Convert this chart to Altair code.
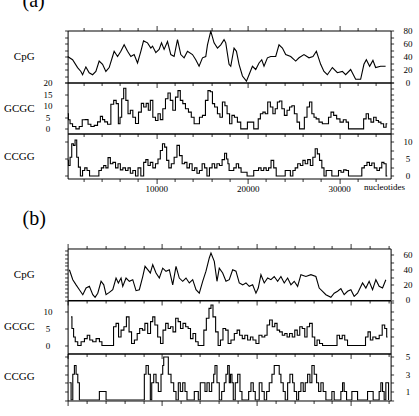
import altair as alt
import pandas as pd

# ---------------- data (position in nucleotides, value) ----------------
A_CPG = [(295,40),(841,35),(1388,23),(1749,17),(1935,12),(2295,24),(2656,15),(3028,12),(3388,17),(3749,33),
         (4121,28),(4481,17),(4842,23),(5214,40),(5388,48),(5760,40),(6121,48),(6481,58),(6853,48),(7214,40),
         (7574,43),(7946,30),(8307,48),(8602,64),(9039,61),(9400,53),(9586,56),(9946,46),(10307,51),(10569,61),
         (10853,51),(11225,63),(11586,43),(11946,40),(12318,66),(12679,43),(13039,38),(13411,48),(13957,43),(14318,35),
         (14679,25),(15050,38),(15411,40),(15597,58),(15958,79),(16318,61),(16690,53),(17050,58),(17411,66),(17597,61),
         (17958,28),(18144,25),(18504,53),(18767,48),(19051,28),(19423,10),(19860,2),(20144,12),(20516,25),(20876,20),
         (21237,30),(21532,35),(21783,25),(22155,38),(22516,40),(23062,40),(23423,58),(23795,53),(24155,43),(24702,40),
         (25248,33),(25609,38),(26155,43),(26702,38),(27139,40),(27511,48),(27981,28),(28341,17),(28713,12),(29260,23),
         (29806,15),(30353,17),(30713,12),(31260,20),(31806,5),(32353,5),(32713,28),(32976,35),(33337,25),(33697,34),
         (33992,23),(34539,25),(35085,25)]

A_GCGC = [(292,6.5),(473,3.9),(656,2.2),(1020,1),(1385,0),(1749,1),(2040,3.9),(2405,4),(2659,2),(3024,1),
          (3388,1.5),(3752,3),(4008,5.4),(4227,4),(4481,3),(4845,2),(5210,10.6),(5465,12.3),(5757,10.9),(5938,2.2),
          (6121,5),(6303,13),(6558,17.5),(6777,12.3),(7031,6.5),(7287,8),(7578,5),(7870,2.3),(8234,7.2),(8489,11),
          (8744,9.4),(9036,11),(9217,8),(9473,12.3),(9764,5),(10056,3.6),(10310,6.5),(10566,4),(10857,8.7),(11149,13),
          (11403,15.5),(11659,12.3),(11950,8),(12242,13.7),(12496,16.5),(12752,12.3),(13043,10.9),(13335,8.7),(13699,7.2),(13954,5),
          (14318,2.2),(14573,2.2),(14865,5),(15229,5.8),(15521,12.3),(15776,16.5),(16031,16),(16250,10.9),(16504,9.4),(16868,6.5),
          (17051,5),(17415,11.6),(17597,10),(17889,6.5),(18144,2.2),(18398,5.8),(18690,5),(19054,2.9),(19419,0),(19856,0),
          (20075,2.9),(20512,2.9),(20803,0),(21059,0),(21240,4.3),(21532,6.5),(21787,7.2),(22042,6.5),(22333,11.6),(22625,9.4),
          (22880,6.5),(23135,8.7),(23354,11.6),(23609,12),(23863,8.7),(24155,5.8),(24447,8),(24702,9.4),(24957,10),(25248,6.5),
          (25540,2.9),(25795,0),(26050,0),(26341,5),(26633,9.4),(26888,11.6),(27142,6.5),(27361,5),(27616,4.3),(27981,2.9),
          (28345,2.2),(28710,2.2),(28965,5),(29256,7.2),(29547,5.8),(29911,4.3),(30276,2.9),(30640,3.9),(30896,2.9),(31151,0),
          (32535,0),(32827,4.3),(33082,6.5),(33337,4.3),(33628,2.9),(33920,5),(34175,3.6),(34430,2.9),(34721,2.2),(35012,0.7),
          (35267,2.2)]

A_CCGG = [(292,4.6),(473,3.1),(656,5.5),(838,9.5),(1020,9),(1202,10.6),(1385,5.5),(1566,2.6),(1822,0),(2040,1.6),
          (2295,2.4),(2550,1.6),(2842,0),(3571,0),(3862,1.6),(4117,2.4),(4372,3.1),(4591,2.4),(4845,5.4),(5101,3.6),
          (5392,4),(5684,2.4),(5938,3.6),(6194,1.8),(6485,2.4),(6777,1.6),(7031,2.4),(7287,0.8),(7578,1.6),(7870,0),
          (8124,2.4),(8489,0),(8744,4),(8963,4.8),(9217,3.1),(9473,4),(9764,2.4),(10056,3.6),(10310,5),(10566,7.5),
          (10784,9.5),(11039,8.5),(11222,4.6),(11513,2.4),(11768,3.6),(12132,5.5),(12387,9),(12679,6),(12971,3.6),(13225,4),
          (13480,2.4),(13772,3.6),(14064,1.6),(14318,2.4),(14573,0.8),(14865,1.6),(15156,3.6),(15411,2.4),(15666,0),(15958,2.4),
          (16250,3.6),(16504,2.4),(16759,3.6),(17051,3.1),(17342,4.8),(17597,6.7),(17780,5),(17889,3.6),(18035,1.6),(18326,1.6),
          (18617,2.4),(18873,3.6),(19128,2.4),(19419,1.1),(19783,1.1),(20075,0),(20512,0),(20803,1.6),(21059,1.6),(21314,2.4),
          (21605,1.6),(21896,2.4),(22151,1.6),(22407,2.4),(22698,4.6),(22989,2.4),(23245,0),(23973,0),(24229,1.6),(24520,1.6),
          (24811,0),(25066,1.6),(25321,2.4),(25613,3.6),(25904,3.1),(26159,4.6),(26414,3.6),(26706,4.8),(26997,3.1),(27252,5.5),
          (27507,8),(27726,6.5),(27981,4.6),(28236,2.4),(28454,0),(28710,1.6),(29074,1.6),(29330,0),(29803,0),(30058,1.6),
          (30349,1.1),(30640,1.8),(30896,1.6),(31151,0),(32353,0),(32609,2.4),(32900,3.1),(33192,4),(33446,3.1),(33701,3.8),
          (33992,2.4),(34284,1.6),(34539,2.4),(34794,4),(35012,3.6),(35267,0)]

B_CPG = [(190,40),(550,26.8),(899,20),(1248,13.6),(1608,7),(1957,15.8),(2306,18),(2666,7),(2910,3.5),(3195,9),
         (3544,24.7),(3830,20),(4073,7),(4422,10),(4782,13.6),(5131,29),(5375,22.5),(5660,29),(5840,18),(6189,29),
         (6538,24.7),(6898,26.8),(7247,12.3),(7596,13.6),(7956,31),(8200,44.5),(8485,40),(8760,35.7),(9014,46.6),(9363,35.7),
         (9712,29),(10072,42),(10421,37.9),(10770,40),(11130,20),(11479,44.5),(11828,29),(12188,24.7),(12537,29),(12886,22.5),
         (13246,26.8),(13595,13.6),(13944,9),(14304,24.7),(14653,38),(15002,55.5),(15182,62),(15531,51),(15817,24.7),(16060,42),
         (16420,35.7),(16769,24.7),(17118,26.8),(17478,40),(17827,38),(18176,22.5),(18536,20),(18885,22.5),(19234,18),(19594,20),
         (19943,9),(20187,15.8),(20472,33.4),(20821,22.5),(21181,29),(21530,26.8),(21879,31),(22239,24.7),(22588,31),(22937,22.5),
         (23297,29),(23646,20),(23995,24.7),(24355,18),(24704,33.4),(25233,31),(25762,33.4),(26291,31),(26640,15.8),(27000,11.5),
         (27349,7),(27878,3.5),(28227,9),(28587,11.5),(28936,15),(29285,7),(29645,11.5),(29994,13.6),(30343,4.9),(30703,9),
         (31232,22.5),(31581,15.8),(31930,24.7),(32290,13.6),(32639,26.8),(32988,18),(33348,15.8),(33697,26.8)]

B_GCGC = [(370,8.4),(550,5),(720,2.5),(899,1.1),(1248,0),(1608,1.1),(1957,2),(2201,3),(2486,1.6),(2835,1.1),
          (3195,2),(3544,1.1),(3724,0),(4782,0),(4951,5.5),(5311,6.5),(5480,2.5),(5840,4.5),(6084,5.5),(6369,8.4),
          (6644,4),(6898,0.6),(7247,1.6),(7491,3.5),(7776,5),(8062,4.5),(8305,6.5),(8654,3.5),(8908,7),(9120,8.4),
          (9363,6),(9712,2.5),(9966,0.6),(10241,4.5),(10527,6.5),(10770,5),(11024,5.5),(11299,4),(11585,8),(11828,7),
          (12082,5),(12357,6.5),(12643,5.5),(12886,5),(13140,2),(13415,3.5),(13701,1.1),(13944,0),(14304,0),(14548,4.5),
          (14833,8),(15108,10.9),(15256,11.9),(15531,8.4),(15817,4),(16060,0),(16314,1.6),(16589,5),(16875,4.5),(17118,0.6),
          (17478,1.6),(17827,3.5),(18071,4.5),(18356,3),(18642,2),(18885,3),(19234,1.6),(19488,2.5),(19763,1.6),(20123,0.6),
          (20398,3),(20758,2.5),(21001,3),(21245,6),(21530,7.5),(21816,5.5),(22059,6.5),(22303,4.5),(22588,4),(22874,3),
          (23117,3.5),(23361,2.5),(23646,3.5),(23932,2.5),(24175,4.5),(24461,3),(24704,5.5),(24990,5),(25233,2.5),(25477,5.5),
          (25762,6.5),(26048,2.5),(26291,0),(26535,1.6),(26820,0.6),(27169,0),(28407,0),(28651,3),(28936,2),(29222,3),
          (29465,1.6),(29814,0),(31401,0),(31687,2.5),(31930,4),(32184,1.6),(32459,2.5),(32819,2),(33168,3),(33454,6),
          (33697,5),(33877,2.5)]

B_CCGG = [(190,2),(370,0),(550,3),(720,4),(899,3),(1079,2),(1248,0),(3195,0),(3364,1),(3893,1),
          (4073,0),(7956,0),(8125,3),(8305,4),(8549,3),(8760,0),(8908,2),(9120,3),(9363,2),(9607,1),
          (9892,3),(10072,4),(10178,5),(10527,5),(10665,3),(10950,2),(11236,1),(11479,0),(11723,2),(11934,1),
          (12188,2),(12431,1),(12643,0),(13246,0),(13415,1),(13701,1),(13839,0),(14050,2),(14304,2),(14548,1),
          (14759,2),(15002,1),(15256,2),(15468,3),(15606,4),(15817,2),(16060,0),(16314,1),(16589,2),(16769,3),
          (16949,4),(17118,2),(17245,3),(17404,2),(17542,0),(17753,2),(18007,3),(18251,1),(18462,0),(18959,0),
          (19171,1),(19414,2),(19658,1),(19869,0),(20123,0),(20292,2),(20578,1),(20821,0),(21075,1),(21350,2),
          (21636,3),(21879,4),(22239,4),(22408,3),(22588,2),(22831,1),(23043,0),(23297,2),(23541,3),(23826,2),
          (23995,1),(24249,0),(24461,1),(24704,2),(24948,1),(25159,2),(25413,3),(25657,2),(25868,4),(26111,3),
          (26365,2),(26577,1),(26820,2),(27064,1),(27349,0),(27773,0),(27984,1),(28227,0),(28936,1),(29116,2),
          (29285,1),(29539,0),(30100,1),(30523,1),(30703,0),(31761,1),(32216,1),(32354,0),(32988,1),(33168,2),
          (33348,1),(33517,0),(33697,2),(33877,2),(33983,0)]

X_DOMAIN_A = [295, 35630]
X_DOMAIN_B = [0, 34200]
X_LABELS = [10000, 20000, 30000]

SERIF = "Liberation Serif"
W = 323

TICK_COND = {"condition": {"test": "datum.value % 10000 === 0", "value": 5}, "value": 3}


def xticks(dom):
    return [v for v in range(0, 40001, 2000) if dom[0] <= v <= dom[1]]


def yvals(dom, step):
    out = []
    v = 0.0
    while v <= dom[1] + 1e-9:
        if v >= dom[0]:
            out.append(v)
        v += step
    return out


def lab_expr(every, offset=0):
    return f"abs((datum.value - {offset}) % {every}) < 1e-6 ? datum.label : ''"


def strip(pairs, xdom, ydom, h, row_label, left_step, left_lab, right_step, right_lab,
          interp, x_top, x_bottom, title=None, xlab_pad=1, xtitle_y=4, right_off=0):
    df = pd.DataFrame(pairs, columns=["pos", "val"])
    xs = alt.Scale(domain=xdom, nice=False, zero=False)
    ys = alt.Scale(domain=ydom, nice=False, zero=False)
    xt = xticks(xdom)

    if x_bottom == "labels":
        bottom_axis = alt.Axis(orient="bottom", values=xt, tickSize=TICK_COND, format="d",
                               labelExpr="indexof([" + ",".join(str(v) for v in X_LABELS) + "], datum.value) >= 0 ? datum.label : ''",
                               labelPadding=xlab_pad, labelFontSize=9, labelColor="black",
                               labelFlush=False, labelOverlap=False,
                               title="nucleotides", titleX=296, titleY=xtitle_y, titleAlign="left",
                               titleBaseline="top", titleFontSize=9, titleFont=SERIF,
                               titleFontWeight="normal", titleColor="black")
    else:
        bottom_axis = alt.Axis(orient="bottom", values=xt, tickSize=TICK_COND, labels=False, title=None)

    if x_top:
        ax1 = alt.Axis(orient="top", values=xt, tickSize=TICK_COND, labels=False, title=None)
        ax2 = bottom_axis
    else:
        ax1 = bottom_axis
        ax2 = None

    left_axis = alt.Axis(orient="left", values=yvals(ydom, left_step), tickSize=3,
                         labels=left_lab is not None,
                         labelExpr=lab_expr(left_lab) if left_lab else "datum.label",
                         labelAlign="center", labelPadding=17, labelFlush=False, labelOverlap=False,
                         title=row_label, titleAngle=0, titleAlign="right", titleBaseline="middle",
                         titleX=-33.5, titleY=h / 2, titleFontSize=11, titleFont=SERIF,
                         titleFontWeight="normal")
    right_axis = alt.Axis(orient="right", values=yvals(ydom, right_step), tickSize=3,
                          labels=right_lab is not None,
                          labelExpr=lab_expr(right_lab, right_off) if right_lab else "datum.label",
                          labelAlign="center", labelPadding=14, labelFlush=False, labelOverlap=False,
                          title=None)

    base = alt.Chart(df)
    line = base.mark_line(color="black", strokeWidth=1.1, interpolate=interp, clip=True).encode(
        x=alt.X("pos:Q", scale=xs, axis=ax1),
        y=alt.Y("val:Q", scale=ys, axis=left_axis),
    )
    ghost = base.mark_line(strokeOpacity=0, interpolate=interp).encode(
        x=alt.X("pos:Q", scale=xs, axis=ax2),
        y=alt.Y("val:Q", scale=ys, axis=right_axis),
    )
    ch = alt.layer(line, ghost).resolve_axis(x="independent", y="independent")
    props = dict(width=W, height=h)
    if title:
        props["title"] = alt.TitleParams(title, anchor="start", frame="group", dx=-45, dy=18.5,
                                         offset=17, baseline="alphabetic", font=SERIF, fontSize=20,
                                         fontWeight="normal", color="black")
    return ch.properties(**props)


a1 = strip(A_CPG, X_DOMAIN_A, [0, 80], 52, "CpG", 10, None, 10, 20, "linear", True, "ticks", title="(a)")
a2 = strip(A_GCGC, X_DOMAIN_A, [-2.0, 20], 51, "GCGC", 5, 5, 2.5, None, "step", False, "ticks")
a3 = strip(A_CCGG, X_DOMAIN_A, [-0.74, 12.5], 45, "CCGG", 5, None, 2.5, 5, "step", False, "labels",
           xlab_pad=1, xtitle_y=4)

spacer = alt.Chart(pd.DataFrame({"v": [0]})).mark_point(opacity=0).encode(
    x=alt.value(0), y=alt.value(0)
).properties(width=W, height=69.5, view=alt.ViewBackground(stroke="transparent"))

b1 = strip(B_CPG, X_DOMAIN_B, [0, 68], 51.5, "CpG", 5, None, 10, 20, "linear", True, "ticks", title="(b)")
b2 = strip(B_GCGC, X_DOMAIN_B, [-2.35, 13.2], 53, "GCGC", 5, 5, 2.5, None, "step", False, "ticks")
b3 = strip(B_CCGG, X_DOMAIN_B, [-0.05, 5.4], 47, "CCGG", 1, None, 1, 2, "step-after", False, "labels",
           xlab_pad=11.7, xtitle_y=14.7, right_off=1)

chart = alt.vconcat(a1, a2, a3, spacer, b1, b2, b3, spacing=0, bounds="flush").properties(
    padding={"left": 2.6, "top": -10.5, "right": 0, "bottom": 0},
    background="white",
).configure_view(stroke="black", strokeWidth=1).configure_axis(
    domain=False, grid=False, tickColor="black", tickWidth=0.8,
    labelFont=SERIF, labelFontSize=9, labelColor="black",
    titleFont=SERIF, titleColor="black", titleFontWeight="normal",
)

chart.save("out.html", embed_options={"renderer": "svg", "actions": False})
